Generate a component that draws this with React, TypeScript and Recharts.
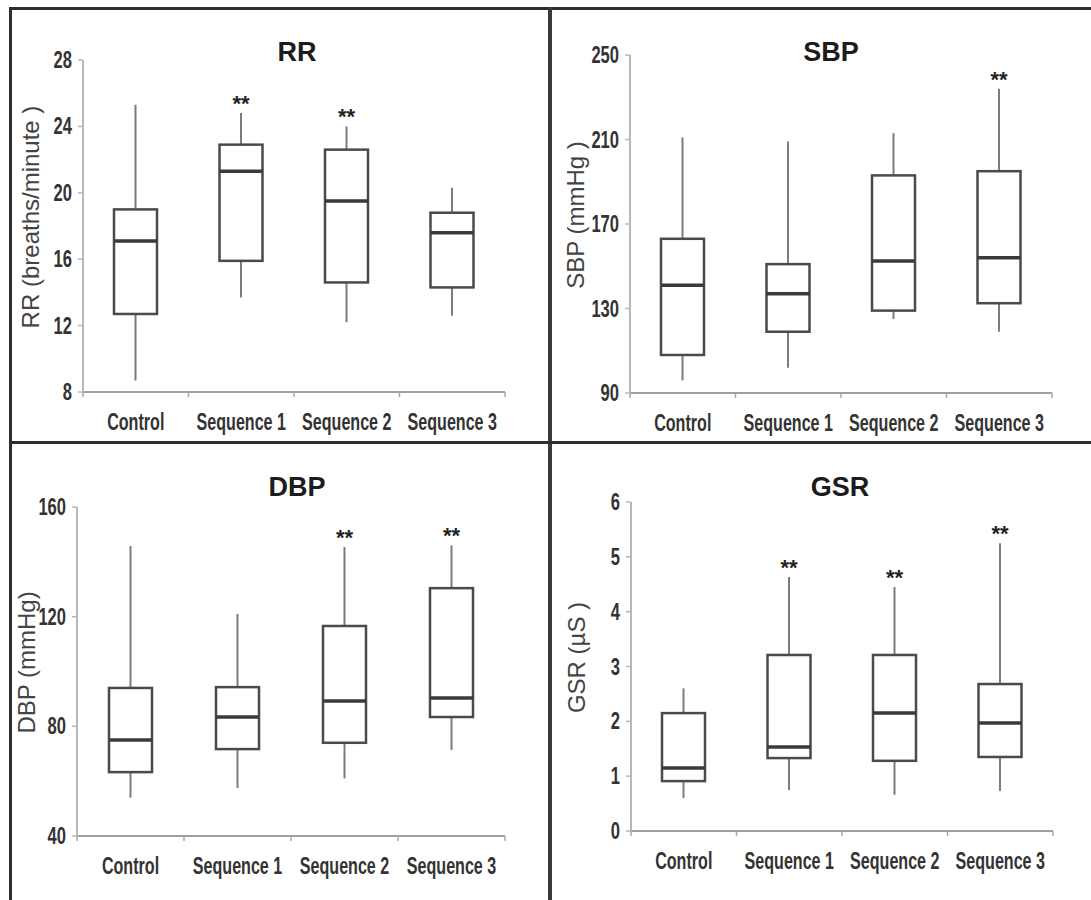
import { ComposedChart, Bar, XAxis, YAxis, LabelList } from "recharts";

const categories = ["Control", "Sequence 1", "Sequence 2", "Sequence 3"];

// five-number summaries, one entry per group in category order
const rrMin = [8.7, 13.7, 12.2, 12.6];
const rrQ1 = [12.7, 15.9, 14.6, 14.3];
const rrMedian = [17.1, 21.3, 19.5, 17.6];
const rrQ3 = [19.0, 22.9, 22.6, 18.8];
const rrMax = [25.3, 24.8, 24.0, 20.3];
const rrSig = ["", "**", "**", ""];
const rrTicks = [8, 12, 16, 20, 24, 28];

const sbpMin = [96, 102, 125, 119];
const sbpQ1 = [108, 119, 129, 132.5];
const sbpMedian = [141, 137, 152.5, 154];
const sbpQ3 = [163, 151, 193, 195];
const sbpMax = [211, 209, 213, 234];
const sbpSig = ["", "", "", "**"];
const sbpTicks = [90, 130, 170, 210, 250];

const dbpMin = [54, 57.5, 61, 71.4];
const dbpQ1 = [63.3, 71.7, 74, 83.4];
const dbpMedian = [75, 83.4, 89.2, 90.3];
const dbpQ3 = [94, 94.3, 116.6, 130.4];
const dbpMax = [145.8, 121, 145.4, 146];
const dbpSig = ["", "", "**", "**"];
const dbpTicks = [40, 80, 120, 160];

const gsrMin = [0.6, 0.75, 0.66, 0.73];
const gsrQ1 = [0.91, 1.33, 1.28, 1.35];
const gsrMedian = [1.15, 1.53, 2.15, 1.97];
const gsrQ3 = [2.15, 3.21, 3.21, 2.68];
const gsrMax = [2.6, 4.63, 4.45, 5.25];
const gsrSig = ["", "**", "**", "**"];
const gsrTicks = [0, 1, 2, 3, 4, 5, 6];

const FONT = "'Liberation Sans', Arial, Helvetica, sans-serif";
const Y_AXIS_W = 60;
const X_AXIS_H = 40;

function buildRows(
  mins: number[],
  q1s: number[],
  medians: number[],
  q3s: number[],
  maxs: number[],
  sig: string[]
) {
  return categories.map((name, i) => ({
    name,
    range: [mins[i], maxs[i]],
    min: mins[i],
    q1: q1s[i],
    median: medians[i],
    q3: q3s[i],
    max: maxs[i],
    sig: sig[i],
  }));
}

// the bar spans min..max, the box parts are placed inside that span
function BoxShape(props: any) {
  const { x, y, width, height, payload } = props;
  const { min, q1, median, q3, max } = payload;
  const top = Math.min(y, y + height);
  const span = Math.abs(height);
  const py = (v: number) => top + (span * (max - v)) / (max - min);
  const cx = x + width / 2;
  return (
    <g>
      <line x1={cx} x2={cx} y1={py(max)} y2={py(min)} stroke="#7c7c7c" strokeWidth={2} />
      <rect
        x={x}
        y={py(q3)}
        width={width}
        height={py(q1) - py(q3)}
        fill="#fff"
        stroke="#4a4a4a"
        strokeWidth={2.5}
      />
      <line
        x1={x}
        x2={x + width}
        y1={py(median)}
        y2={py(median)}
        stroke="#3a3a3a"
        strokeWidth={3.5}
      />
    </g>
  );
}

function SigLabel(props: any) {
  const vb = props.viewBox ?? props;
  const { x, y, width } = vb;
  if (!props.value) return null;
  return (
    <text
      x={x + width / 2}
      y={y - 2}
      textAnchor="middle"
      fontFamily={FONT}
      fontWeight="bold"
      fontSize={22}
      fill="#222"
    >
      {props.value}
    </text>
  );
}

function YTick(props: any) {
  const { x, y, payload } = props;
  return (
    <g transform={`translate(${x},${y})`}>
      <text
        transform="scale(0.72,1)"
        textAnchor="end"
        dy={8}
        fontFamily={FONT}
        fontWeight="bold"
        fontSize={23}
        fill="#333"
      >
        {payload.value}
      </text>
    </g>
  );
}

function XTick(props: any) {
  const { x, y, payload, index, half } = props;
  return (
    <g>
      <line x1={x - half} x2={x - half} y1={y} y2={y + 5} stroke="#a8a8a8" strokeWidth={1.5} />
      {index === categories.length - 1 && (
        <line x1={x + half} x2={x + half} y1={y} y2={y + 5} stroke="#a8a8a8" strokeWidth={1.5} />
      )}
      <g transform={`translate(${x},${y + 38})`}>
        <text
          transform="scale(0.7,1)"
          textAnchor="middle"
          fontFamily={FONT}
          fontWeight="bold"
          fontSize={23}
          fill="#333"
        >
          {payload.value}
        </text>
      </g>
    </g>
  );
}

function AxisTitle(props: any) {
  const { lx, ly, text } = props;
  return (
    <text
      x={lx}
      y={ly}
      transform={`rotate(-90 ${lx} ${ly})`}
      textAnchor="middle"
      dominantBaseline="central"
      fontFamily={FONT}
      fontSize={24}
      fill="#444"
    >
      {text}
    </text>
  );
}

type PanelProps = {
  title: string;
  yLabel: string;
  rows: any[];
  ticks: number[];
  left: number;
  top: number;
  width: number;
  height: number;
  margin: { top: number; right: number; bottom: number; left: number };
  titleX: number;
  titleY: number;
  labelOffset: number;
};

function Panel(p: PanelProps) {
  const plotLeft = p.margin.left + Y_AXIS_W;
  const plotW = p.width - plotLeft - p.margin.right;
  const plotH = p.height - p.margin.top - p.margin.bottom - X_AXIS_H;
  const half = plotW / categories.length / 2;
  return (
    <div style={{ position: "absolute", left: p.left, top: p.top, width: p.width, height: p.height }}>
      <div
        style={{
          position: "absolute",
          left: p.titleX - 100,
          top: p.titleY - 16,
          width: 200,
          lineHeight: "32px",
          textAlign: "center",
          fontFamily: FONT,
          fontWeight: "bold",
          fontSize: 27,
          color: "#1c1c1c",
        }}
      >
        {p.title}
      </div>
      <ComposedChart width={p.width} height={p.height} data={p.rows} margin={p.margin}>
        <XAxis
          dataKey="name"
          height={X_AXIS_H}
          interval={0}
          axisLine={{ stroke: "#a0a0a0", strokeWidth: 2 }}
          tickLine={false}
          tickSize={0}
          tickMargin={0}
          tick={(t: any) => <XTick {...t} half={half} />}
        />
        <YAxis
          type="number"
          domain={[p.ticks[0], p.ticks[p.ticks.length - 1]]}
          ticks={p.ticks}
          interval={0}
          width={Y_AXIS_W}
          axisLine={{ stroke: "#b8b8b8", strokeWidth: 2 }}
          tickLine={{ stroke: "#b8b8b8", strokeWidth: 1.5 }}
          tickSize={5}
          tickMargin={6}
          tick={<YTick />}
          label={
            <AxisTitle
              lx={plotLeft - p.labelOffset}
              ly={p.margin.top + plotH / 2 - 9}
              text={p.yLabel}
            />
          }
        />
        <Bar dataKey="range" barSize={43} shape={<BoxShape />} isAnimationActive={false}>
          <LabelList dataKey="sig" content={<SigLabel />} />
        </Bar>
      </ComposedChart>
    </div>
  );
}

export default function App() {
  const frame = "#2e2e2e";
  return (
    <div
      style={{
        position: "absolute",
        left: 0,
        top: 0,
        width: 1091,
        height: 900,
        background: "#fff",
        overflow: "hidden",
      }}
    >
      <Panel
        title="RR"
        yLabel="RR (breaths/minute )"
        rows={buildRows(rrMin, rrQ1, rrMedian, rrQ3, rrMax, rrSig)}
        ticks={rrTicks}
        left={0}
        top={0}
        width={550}
        height={441}
        margin={{ top: 60, right: 45, bottom: 9, left: 23 }}
        titleX={297}
        titleY={52}
        labelOffset={53}
      />
      <Panel
        title="SBP"
        yLabel="SBP (mmHg )"
        rows={buildRows(sbpMin, sbpQ1, sbpMedian, sbpQ3, sbpMax, sbpSig)}
        ticks={sbpTicks}
        left={550}
        top={0}
        width={541}
        height={441}
        margin={{ top: 55, right: 39, bottom: 8, left: 20 }}
        titleX={281}
        titleY={52}
        labelOffset={55}
      />
      <Panel
        title="DBP"
        yLabel="DBP (mmHg)"
        rows={buildRows(dbpMin, dbpQ1, dbpMedian, dbpQ3, dbpMax, dbpSig)}
        ticks={dbpTicks}
        left={0}
        top={441}
        width={550}
        height={459}
        margin={{ top: 66, right: 45, bottom: 24, left: 17 }}
        titleX={297}
        titleY={46}
        labelOffset={51}
      />
      <Panel
        title="GSR"
        yLabel="GSR (µS )"
        rows={buildRows(gsrMin, gsrQ1, gsrMedian, gsrQ3, gsrMax, gsrSig)}
        ticks={gsrTicks}
        left={550}
        top={441}
        width={541}
        height={459}
        margin={{ top: 61, right: 38, bottom: 29, left: 21 }}
        titleX={290}
        titleY={46}
        labelOffset={55}
      />
      {/* panel frame */}
      <div style={{ position: "absolute", left: 10, top: 7, width: 1081, height: 3, background: frame }} />
      <div style={{ position: "absolute", left: 9, top: 7, width: 3, height: 893, background: frame }} />
      <div style={{ position: "absolute", left: 548, top: 7, width: 4, height: 893, background: "#3a3a3a" }} />
      <div style={{ position: "absolute", left: 10, top: 441, width: 1081, height: 3, background: frame }} />
    </div>
  );
}
